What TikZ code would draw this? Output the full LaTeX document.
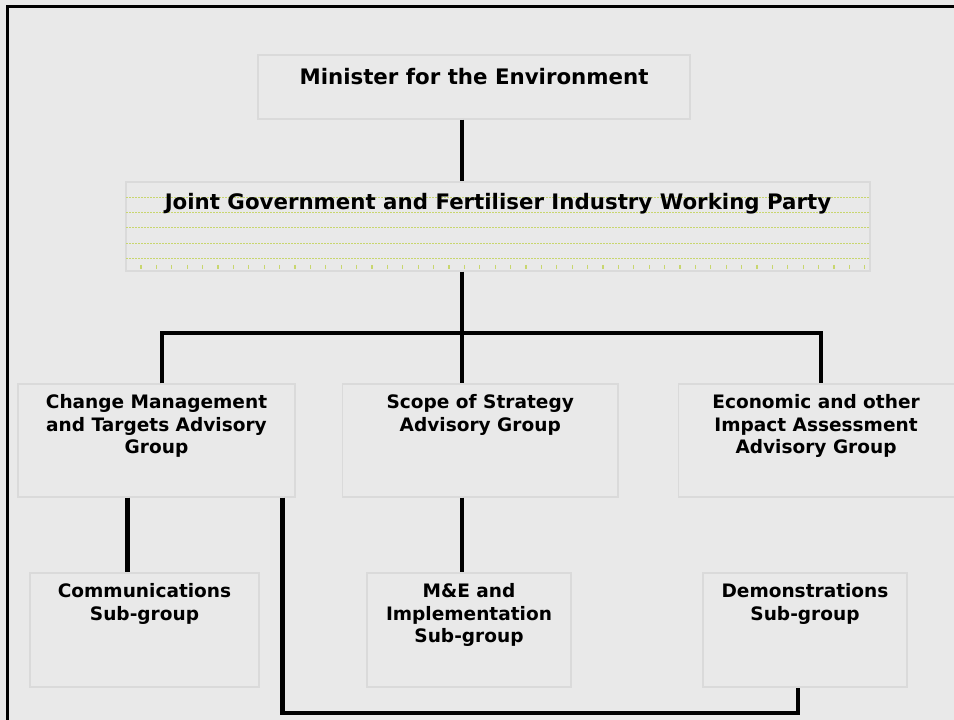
\documentclass[tikz,border=0pt]{standalone}
\usepackage{fontspec}
\setmainfont{DejaVu Sans}
\definecolor{slide}{RGB}{233,233,233}
\definecolor{rim}{RGB}{218,218,218}
\definecolor{rule}{RGB}{200,214,110}
\tikzset{
  panel/.style={draw=rim, line width=0.9pt, fill=slide, rectangle, inner sep=0pt},
  heading/.style={font=\bfseries\fontsize{16}{19}\selectfont, anchor=north, inner sep=0pt},
  caption/.style={font=\bfseries\fontsize{13.9}{16.9}\selectfont, align=center, anchor=north, inner sep=0pt},
  link/.style={line width=3.7pt},
}

\begin{document}
\begin{tikzpicture}[x=0.75pt, y=-0.75pt]
  % slide
  \clip (0,0) rectangle (954,720);
  \fill[slide] (0,0) rectangle (954,720);
  \draw[line width=2.1pt] (7.2,720) -- (7.2,6.2) -- (954,6.2);
  % top
  \node[panel, minimum width=324pt, minimum height=48pt] (minister) at (474,87) {};
  \node[panel, minimum width=558pt, minimum height=66.75pt] (joint) at (498,226.5) {};
  \foreach \y in {197,212,227,243,258}{
    \draw[rule, dash pattern=on 1.5pt off 0.75pt, line width=0.6pt] (126,\y) -- (870,\y);
  }
  \foreach \k in {0,...,47}{
    \draw[rule, line width=0.9pt] ({141+15.4*\k},265) -- ++(0,4);
  }
  \node[heading] (ministertxt) at ([yshift=-10.5pt]minister.north) {Minister for the Environment};
  \node[heading] (jointtxt) at ([yshift=-9pt]joint.north) {Joint Government and Fertiliser Industry Working Party};
  % advisory groups
  \node[panel, minimum width=207.75pt, minimum height=84.75pt] (change) at (156.5,440.5) {};
  \node[panel, minimum width=206.6pt, minimum height=84.75pt] (scope) at (480.25,440.5) {};
  \node[panel, minimum width=208.1pt, minimum height=84.75pt] (economic) at (817.25,440.5) {};
  \node[caption] (changetxt) at ([yshift=-8.25pt]change.north) {Change Management\\and Targets Advisory\\Group};
  \node[caption] (scopetxt) at ([yshift=-8.25pt]scope.north) {Scope of Strategy\\Advisory Group};
  \node[caption] (economictxt) at ([xshift=-0.9pt, yshift=-8.25pt]economic.north) {Economic and other\\Impact Assessment\\Advisory Group};
  % sub-groups
  \node[panel, minimum width=171.75pt, minimum height=85.5pt] (comms) at (144.5,630) {};
  \node[panel, minimum width=153pt, minimum height=85.5pt] (me) at (469,630) {};
  \node[panel, minimum width=153pt, minimum height=85.5pt] (demo) at (805,630) {};
  \node[caption] (commstxt) at ([yshift=-8.25pt]comms.north) {Communications\\Sub-group};
  \node[caption] (metxt) at ([yshift=-8.25pt]me.north) {M\&E and\\Implementation\\Sub-group};
  \node[caption] (demotxt) at ([yshift=-8.25pt]demo.north) {Demonstrations\\Sub-group};
  % connectors
  \coordinate (trunk) at (462,333);
  \coordinate (loop) at (282.5,713);
  \coordinate (commsdrop) at ([xshift=-13.1pt]comms.north);
  \draw[link] (minister.south -| trunk) -- (joint.north -| trunk);
  \draw[link] (joint.south -| trunk) -- (trunk);
  \draw[link] ([xshift=4.1pt]change.north) |- (trunk) -| ([xshift=2.8pt]economic.north);
  \draw[link] (trunk) -- (scope.north -| trunk);
  \draw[link] (commsdrop |- change.south) -- (commsdrop);
  \draw[link] (scope.south -| trunk) -- (me.north -| trunk);
  \draw[link] (change.south -| loop) -- (loop) -| ([xshift=-5.25pt]demo.south);
\end{tikzpicture}
\end{document}
